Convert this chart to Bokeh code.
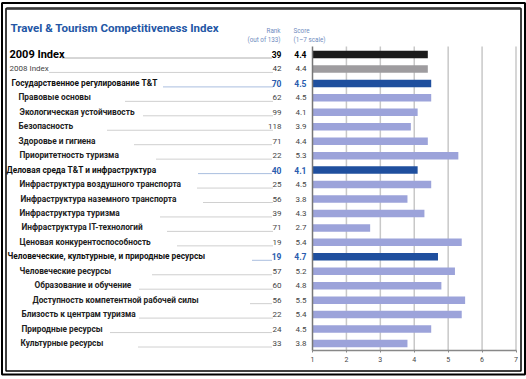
from bokeh.plotting import figure
from bokeh.models import Range1d, LinearAxis, FixedTicker
from bokeh.core.properties import value
from bokeh.embed import file_html
from bokeh.resources import INLINE

# ---------------- data ----------------
title_text = "Travel & Tourism Competitiveness Index"
rank_head = ["Rank", "(out of 133)"]
score_head = ["Score", "(1–7 scale)"]

labels = [
    "2009 Index",
    "2008 Index",
    "Государственное регулирование T&T",
    "Правовые основы",
    "Экологическая устойчивость",
    "Безопасность",
    "Здоровье и гигиена",
    "Приоритетность туризма",
    "Деловая среда T&T и инфраструктура",
    "Инфраструктура воздушного транспорта",
    "Инфраструктура наземного транспорта",
    "Инфраструктура туризма",
    "Инфраструктура IT-технологий",
    "Ценовая конкурентоспособность",
    "Человеческие, культурные, и природные ресурсы",
    "Человеческие ресурсы",
    "Образование и обучение",
    "Доступность компетентной рабочей силы",
    "Близость к центрам туризма",
    "Природные ресурсы",
    "Культурные ресурсы",
]
levels = ["index", "prev", "pillar", "sub", "sub", "sub", "sub", "sub",
          "pillar", "sub", "sub", "sub", "sub", "sub",
          "pillar", "sub", "sub", "sub", "sub", "sub", "sub"]
ranks = [39, 42, 70, 62, 99, 118, 71, 22, 40, 25, 56, 39, 71, 19,
         19, 57, 60, 56, 22, 24, 33]
scores = [4.4, 4.4, 4.5, 4.5, 4.1, 3.9, 4.4, 5.3, 4.1, 4.5, 3.8, 4.3, 2.7, 5.4,
          4.7, 5.2, 4.8, 5.5, 5.4, 4.5, 3.8]
axis_ticks = [1, 2, 3, 4, 5, 6, 7]

# ---------------- layout (pixels) ----------------
W, H = 526, 379
AX1, AX7 = 312.0, 515.5
SX = (AX7 - AX1) / 6.0
ROW0, DY = 54.0, 14.45
label_px = [9, 9, 11, 18, 19, 18, 18, 19, 6, 19, 20, 19, 21, 19, 7, 19, 34, 32, 21, 21, 20]
leader_px = [62, 49, 163, 125, 143, 107, 134, 156, 198, 197, 203, 160, 167, 177,
             252, 152, 139, 250, 139, 110, 138]
LEADER_END = 272
RANK_PX = 281
SCORE_PX = 306

FONT = "Roboto"


def px2x(px):
    return 1 + (px - AX1) / SX


def py2y(py):
    return (py - ROW0) / DY


rows = list(range(len(labels)))

style = {
    "index": dict(bar="#1b1b1b", lab="#000000", size="11px", fstyle="bold",
                  num="#000000", nstyle="bold", nsize="8.5px", dot="#333333"),
    "prev": dict(bar="#9e9c9f", lab="#444444", size="8px", fstyle="normal",
                 num="#333333", nstyle="normal", nsize="8px", dot="#888888"),
    "pillar": dict(bar="#1f4f9e", lab="#111111", size="8.3px", fstyle="bold",
                   num="#2a5cae", nstyle="bold", nsize="8.5px", dot="#2a5cae"),
    "sub": dict(bar="#9ca3da", lab="#222222", size="8.3px", fstyle="bold",
                num="#444444", nstyle="normal", nsize="8px", dot="#888888"),
}

p = figure(width=W, height=H,
           x_range=Range1d(px2x(0), px2x(W)),
           y_range=Range1d(py2y(H), py2y(0)),
           x_axis_type=None, y_axis_type=None,
           toolbar_location=None, output_backend="svg",
           min_border=0, outline_line_color=None)
p.styles = {"position": "absolute", "left": "0px", "top": "0px"}
p.background_fill_color = "white"
p.border_fill_color = "white"

# frame lines
p.quad(left=[px2x(1.5)], right=[px2x(524.5)], top=[py2y(2.5)], bottom=[py2y(374)],
       fill_color=None, line_color="black", line_width=2)
p.quad(left=[px2x(5.5)], right=[px2x(520.5)], top=[py2y(8)], bottom=[py2y(370.5)],
       fill_color=None, line_color="black", line_width=1.5)
p.segment(x0=[px2x(6)], x1=[px2x(520)], y0=[py2y(8)], y1=[py2y(8)],
          line_color="#3a3a3a", line_width=2.5)

# grid lines
gt = axis_ticks[1:]
p.segment(x0=gt, x1=gt, y0=[py2y(46)] * len(gt), y1=[py2y(350)] * len(gt),
          line_color="#c8c8c8", line_width=1.5)

# bars
p.hbar(y=rows, left=1, right=scores, height=0.52,
       fill_color=[style[l]["bar"] for l in levels], line_color=None)

# axes
xa = LinearAxis(fixed_location=py2y(350), bounds=(1, 7),
                ticker=FixedTicker(ticks=axis_ticks),
                axis_line_color="#888888", axis_line_width=1.5,
                major_tick_line_color="#888888", major_tick_out=2, major_tick_in=0,
                minor_tick_line_color=None,
                major_label_text_font=FONT, major_label_text_font_size="7px",
                major_label_text_color="#444444", major_label_standoff=4)
p.add_layout(xa, "below")
ya = LinearAxis(fixed_location=1, bounds=(py2y(46), py2y(350)),
                ticker=FixedTicker(ticks=[]),
                axis_line_color="#777777", axis_line_width=1.5,
                major_tick_line_color=None, minor_tick_line_color=None,
                major_label_text_font_size="0px")
p.add_layout(ya, "left")

# leaders (dotted)
p.segment(x0=[px2x(v) for v in leader_px], x1=[px2x(LEADER_END)] * len(rows),
          y0=[r + 3.5 / DY for r in rows], y1=[r + 3.5 / DY for r in rows],
          line_color=[style[l]["dot"] for l in levels], line_width=0.8, line_dash="1 1")

# labels / ranks / scores
for i, (lab, lev) in enumerate(zip(labels, levels)):
    s = style[lev]
    p.text(x=[px2x(label_px[i])], y=[rows[i] - 0.5 / DY], text=[lab],
           text_font=value(FONT), text_font_size=s["size"], text_font_style=s["fstyle"],
           text_color=s["lab"], text_baseline="middle", text_align="left")
    p.text(x=[px2x(RANK_PX)], y=[rows[i]], text=[str(ranks[i])],
           text_font=value(FONT), text_font_size=s["nsize"], text_font_style=s["nstyle"],
           text_color=s["num"], text_baseline="middle", text_align="right")
    p.text(x=[px2x(SCORE_PX)], y=[rows[i]], text=[f"{scores[i]:.1f}"],
           text_font=value(FONT), text_font_size=s["nsize"], text_font_style=s["nstyle"],
           text_color=s["num"], text_baseline="middle", text_align="right")

# title and headers
p.text(x=[px2x(10)], y=[py2y(27)], text=[title_text], text_font=value(FONT),
       text_font_size="11.5px", text_font_style="bold", text_color="#2356a5",
       text_baseline="alphabetic")
p.text(x=[px2x(280)] * 2, y=[py2y(30), py2y(39.5)], text=rank_head, text_font=value(FONT),
       text_font_size="6.3px", text_color="#6f8cc0", text_baseline="middle", text_align="right")
p.text(x=[px2x(293)] * 2, y=[py2y(30), py2y(39.5)], text=score_head, text_font=value(FONT),
       text_font_size="6.3px", text_color="#6f8cc0", text_baseline="middle", text_align="left")

open("out.html", "w").write(file_html(p, INLINE))
